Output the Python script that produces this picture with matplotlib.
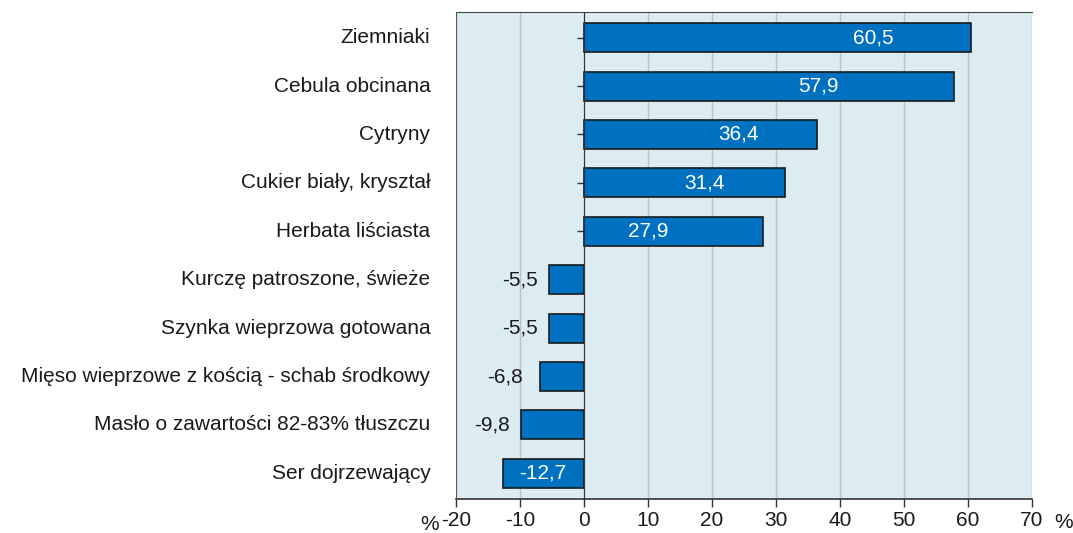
import matplotlib.pyplot as plt

plt.rcParams['font.family'] = ['Liberation Sans', 'DejaVu Sans']

# data
products = ["Ziemniaki", "Cebula obcinana", "Cytryny", "Cukier biały, kryształ",
            "Herbata liściasta", "Kurczę patroszone, świeże",
            "Szynka wieprzowa gotowana", "Mięso wieprzowe z kością - schab środkowy",
            "Masło o zawartości 82-83% tłuszczu", "Ser dojrzewający"]
changes = [60.5, 57.9, 36.4, 31.4, 27.9, -5.5, -5.5, -6.8, -9.8, -12.7]
value_labels = ["60,5", "57,9", "36,4", "31,4", "27,9", "-5,5", "-5,5", "-6,8", "-9,8", "-12,7"]
# where each value label sits along the x axis, and whether it is inside the bar
label_x = [45.2, 36.6, 24.1, 18.9, 10.0, -10.0, -10.0, -12.3, -14.4, -6.4]
label_inside = [True, True, True, True, True, False, False, False, False, True]
xticks = [-20, -10, 0, 10, 20, 30, 40, 50, 60, 70]

FS = 15

fig = plt.figure(figsize=(10.73, 5.33), dpi=100)
ax = fig.add_axes([0.425, 0.0638, 0.5367, 0.9137])
ax.set_facecolor('#dbecf3')

ypos = list(range(len(products)))
ax.barh(ypos, changes, height=0.6, color='#0070c0', edgecolor='#1a1a1a',
        linewidth=1.2, zorder=3)

for y, lx, txt, inside in zip(ypos, label_x, value_labels, label_inside):
    ax.text(lx, y, txt, ha='center', va='center', fontsize=FS,
            color='white' if inside else '#1a1a1a', zorder=4)

ax.set_xlim(-20, 70)
ax.set_ylim(9.53, -0.53)
ax.set_xticks(xticks)
ax.set_xticklabels([str(t) for t in xticks], fontsize=FS, color='#1a1a1a')
ax.tick_params(axis='x', direction='out', length=6, width=1, color='#333333', pad=3)

ax.xaxis.grid(True, color='#c0c0c0', linewidth=1, zorder=1)
ax.set_axisbelow(True)

# y axis drawn at zero
ax.spines['left'].set_position(('data', 0))
ax.spines['left'].set_color('#333333')
ax.spines['left'].set_zorder(5)
ax.spines['right'].set_visible(False)
ax.spines['top'].set_color('#444444')
ax.spines['bottom'].set_color('#333333')
ax.spines['bottom'].set_linewidth(1.2)
ax.axvline(-20, color='#555555', linewidth=1.5, zorder=5)

ax.set_yticks(ypos)
ax.set_yticklabels([])
ax.tick_params(axis='y', direction='out', length=5, width=1, color='#333333')

for y, name in zip(ypos, products):
    ax.text(-24.0, y, name, ha='right', va='center', fontsize=FS, color='#1a1a1a')

ax.text(-24.2, -0.052, '%', transform=ax.get_xaxis_transform(), fontsize=FS,
        ha='center', va='center', color='#1a1a1a')
ax.text(75.0, -0.048, '%', transform=ax.get_xaxis_transform(), fontsize=FS,
        ha='center', va='center', color='#1a1a1a')

fig.savefig('out.png', dpi=100)
